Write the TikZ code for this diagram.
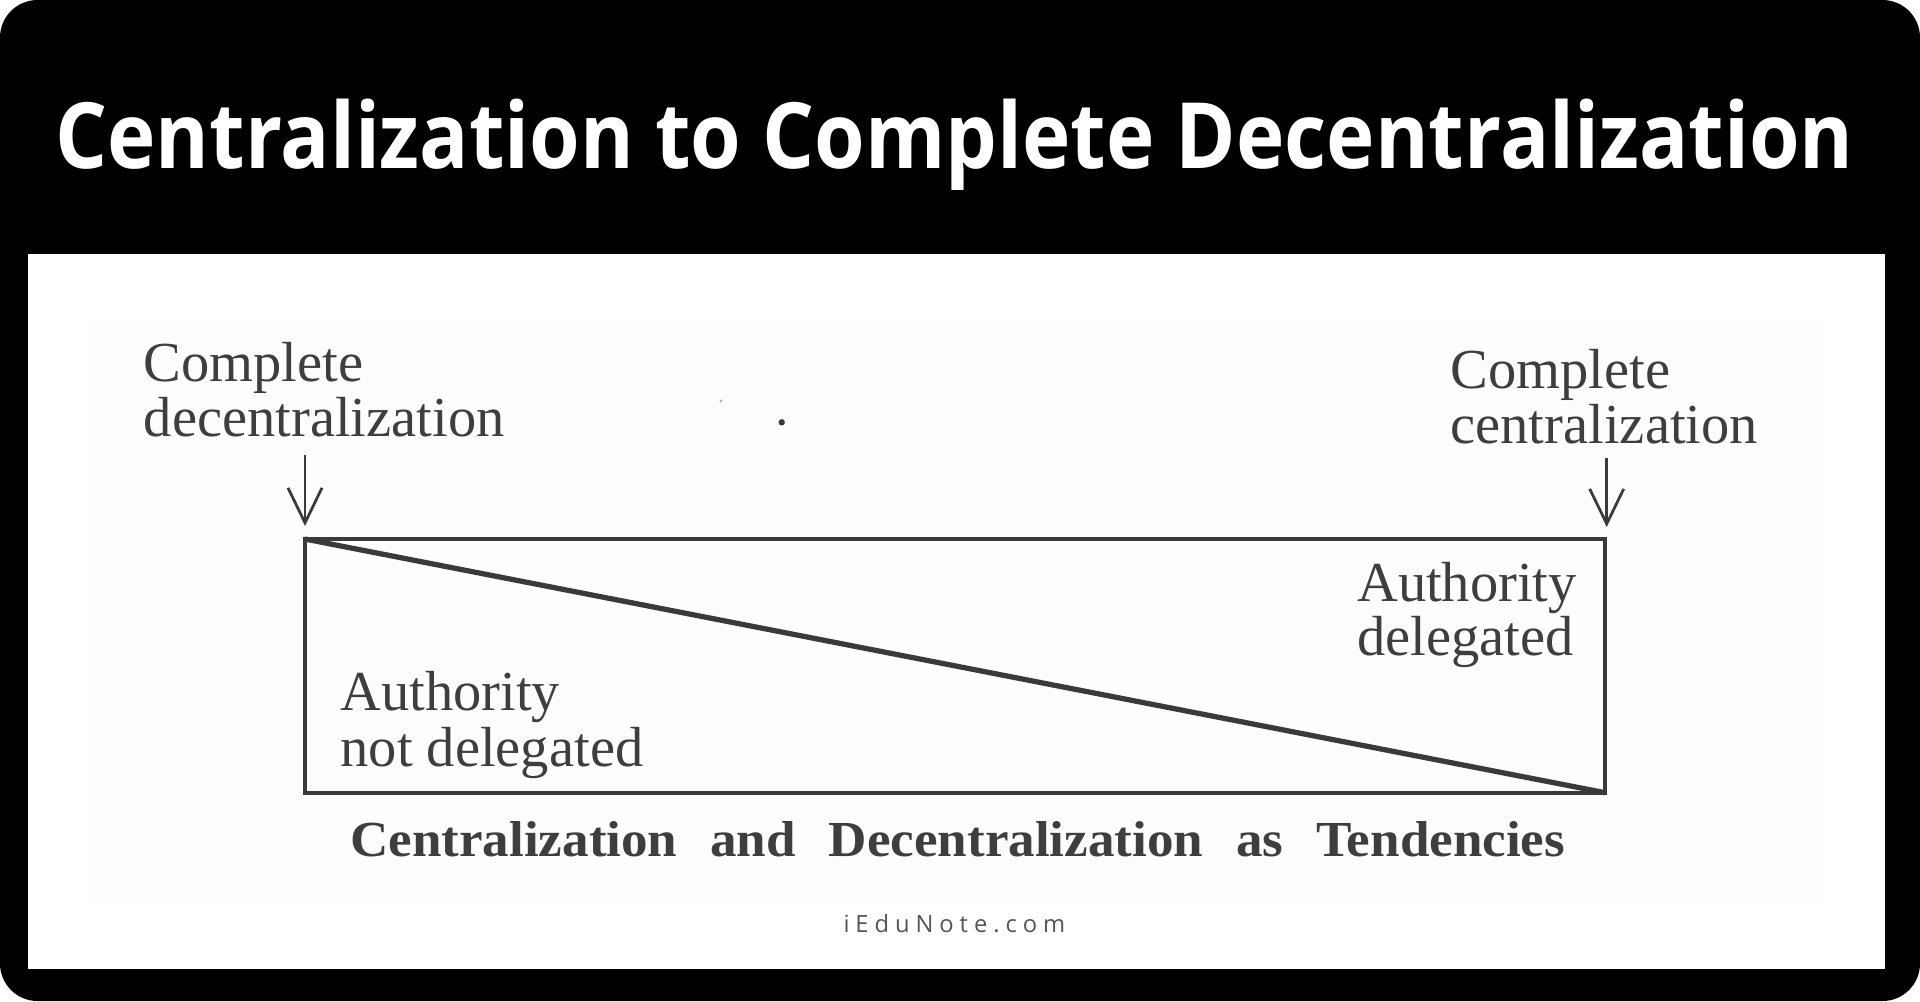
\documentclass[tikz,border=0pt]{standalone}
\usepackage{fontspec}
\usetikzlibrary{arrows.meta}
\newfontfamily\titlefont{Open Sans}
\newfontfamily\scanfont{Liberation Serif}
\newfontfamily\wmfont[LetterSpace=25]{Open Sans}
\definecolor{inkgray}{RGB}{62,62,62}
\definecolor{linegray}{RGB}{58,58,58}
\definecolor{scanbg}{RGB}{253,253,253}
\definecolor{wmgray}{RGB}{85,85,85}
\tikzset{
  lab/.style={anchor=base west, inner sep=0pt, text=inkgray,
    font=\scanfont\fontsize{22.6pt}{27pt}\selectfont},
  boxline/.style={draw=linegray, line width=1.6pt},
  diagline/.style={draw=linegray, line width=2.1pt},
  downarrow/.style={draw=linegray, line width=1.1pt,
    -{Straight Barb[length=14pt,width=13.6pt,line width=1.1pt]}},
}
\begin{document}
\begin{tikzpicture}[x=0.4pt,y=-0.4pt]
\useasboundingbox (0,0) rectangle (1920,1001);
% frame
\fill[white] (0,0) rectangle (1920,1001);
\fill[black, rounded corners=15pt] (0,0) rectangle (1920,1001);
\fill[white] (27.7,254) rectangle (1885,969);
\fill[scanbg] (92,321) rectangle (1820,902);
% title
\node[anchor=base west, inner sep=0pt, text=white] (title) at (55,168)
  {\resizebox{719.2pt}{27.8pt}{\titlefont\bfseries Centralization to Complete Decentralization}};
% labels
\node[lab] (cd1) at (143.3,381.7) {Complete};
\node[lab] (cd2) at (143.3,436.7) {decentralization};
\node[lab] (cc1) at (1450,388) {Complete};
\node[lab] (cc2) at (1450,443) {centralization};
\node[lab] (ad1) at (1356.7,601.7) {Authority};
\node[lab] (ad2) at (1356.7,655) {delegated};
\node[lab] (an1) at (340,710) {Authority};
\node[lab] (an2) at (340,766.7) {not delegated};
% box and diagonal
\coordinate (tl) at (305,539);
\coordinate (br) at (1605,792.7);
\draw[boxline] (tl) rectangle (br);
\draw[diagline] (tl) -- (br);
% arrows
\coordinate (lastart) at (305,455);
\coordinate (latip) at (305,526);
\coordinate (rastart) at (1606.7,458);
\coordinate (ratip) at (1606.7,527);
\draw[downarrow] (lastart) -- (latip);
\draw[downarrow] (rastart) -- (ratip);
% scan specks
\fill[gray!60] (721,401) circle (1.6);
\fill[linegray] (781.7,422.3) circle (3.2);
% caption
\node[anchor=base west, inner sep=0pt, text=inkgray] (caption) at (349.7,856.7)
  {\resizebox{485.9pt}{14pt}{\scanfont\bfseries Centralization\hspace{0.62em}and\hspace{0.62em}Decentralization\hspace{0.62em}as\hspace{0.62em}Tendencies}};
% watermark
\node[anchor=base west, inner sep=0pt, text=wmgray, font=\wmfont\fontsize{9.5pt}{11pt}\selectfont] (wm) at (843,932) {iEduNote.com};
\end{tikzpicture}
\end{document}
